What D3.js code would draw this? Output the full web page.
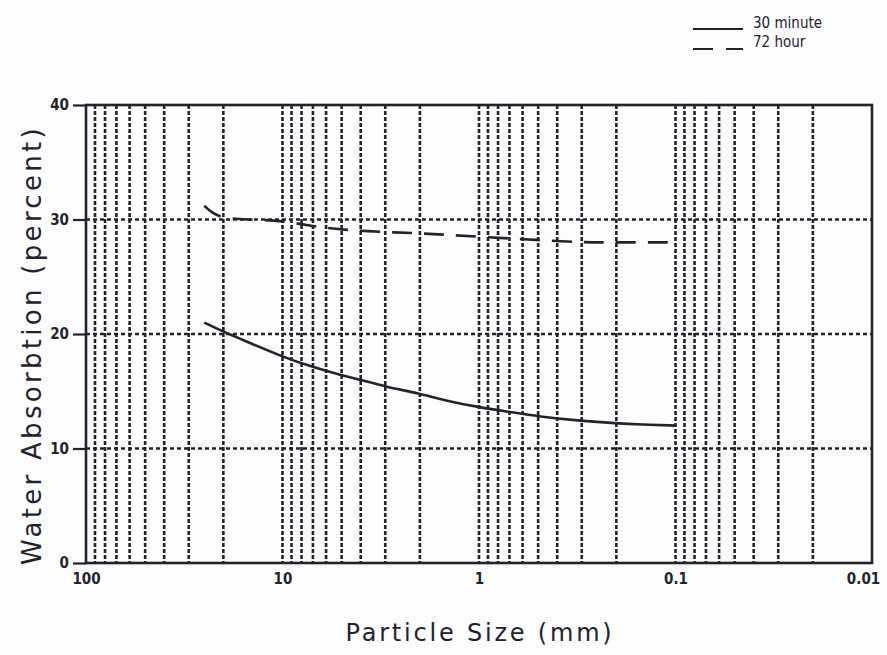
<!DOCTYPE html>
<html>
<head>
<meta charset="utf-8">
<script src="https://cdn.jsdelivr.net/npm/d3@7"></script>
<style>
	body { margin: 0; background: #fdfdfd; }
	svg { display: block; }
</style>
</head>
<body>
<div id="chart"></div>
<script>
// particle size (mm) and water absorption (percent)
const sizes30 = [25, 20, 15, 10, 7, 5, 4, 3, 2, 1.5, 1, 0.7, 0.5, 0.3, 0.2, 0.15, 0.1];
const absorb30 = [21.0, 20.2, 19.3, 18.0, 17.1, 16.4, 16.0, 15.4, 14.8, 14.2, 13.6, 13.2, 12.8, 12.4, 12.2, 12.1, 12.0];

const sizes72 = [25, 23, 20, 15, 10, 7, 5, 3, 2, 1, 0.5, 0.3, 0.2, 0.1];
const absorb72 = [31.2, 30.6, 30.1, 30.0, 29.9, 29.4, 29.1, 28.9, 28.8, 28.5, 28.2, 28.0, 28.0, 28.0];

const xTicks = [100, 10, 1, 0.1, 0.01];
const xTickLabels = ["100", "10", "1", "0.1", "0.01"];
const yTicks = [0, 10, 20, 30, 40];

const seriesNames = ["30 minute", "72 hour"];

const ink = "#23232e";
const width = 887;
const height = 655;

const svg = d3
	.select("#chart")
	.append("svg")
	.attr("width", width)
	.attr("height", height)
	.style("font-family", "DejaVu Sans");

// scales
const x = d3.scaleLog().domain([100, 0.01]).range([86, 872]);
const y = d3.scaleLinear().domain([0, 40]).range([563, 105]);

// vertical grid lines (1..9 in each decade)
const minor = [];
[100, 10, 1, 0.1].forEach(dec => {
	for (let k = 1; k < 10; k++) minor.push((dec / 10) * k);
});
const inner = minor.filter(v => v < 100 && v > 0.01);

svg
	.append("g")
	.selectAll("line")
	.data(inner)
	.enter()
	.append("line")
	.attr("x1", d => x(d))
	.attr("x2", d => x(d))
	.attr("y1", y(40))
	.attr("y2", y(0))
	.attr("stroke", ink)
	.attr("stroke-width", 2.6)
	.attr("stroke-dasharray", "4,2");

// horizontal grid lines
svg
	.append("g")
	.selectAll("line")
	.data([10, 20, 30])
	.enter()
	.append("line")
	.attr("x1", x(100))
	.attr("x2", x(0.01))
	.attr("y1", d => y(d))
	.attr("y2", d => y(d))
	.attr("stroke", ink)
	.attr("stroke-width", 2.6)
	.attr("stroke-dasharray", "4,3");

// frame
svg
	.append("rect")
	.attr("x", x(100))
	.attr("y", y(40))
	.attr("width", x(0.01) - x(100))
	.attr("height", y(0) - y(40))
	.attr("fill", "none")
	.attr("stroke", ink)
	.attr("stroke-width", 2.6);

// y axis
const yAxis = svg
	.append("g")
	.attr("transform", `translate(${x(100)},0)`)
	.call(d3.axisLeft(y).tickValues(yTicks).tickSize(13).tickPadding(4));
yAxis.select(".domain").remove();
yAxis.selectAll("line").attr("stroke", ink).attr("stroke-width", 2.2);
yAxis
	.selectAll("text")
	.attr("fill", ink)
	.style("font-family", "DejaVu Sans Condensed")
	.style("font-size", "15px")
	.style("font-weight", 700);

// x axis
const xAxis = svg
	.append("g")
	.attr("transform", `translate(0,${y(0)})`)
	.call(
		d3
			.axisBottom(x)
			.tickValues(xTicks)
			.tickSize(0)
			.tickPadding(10)
			.tickFormat((d, i) => xTickLabels[i])
	);
xAxis.select(".domain").remove();
xAxis
	.selectAll("text")
	.attr("fill", ink)
	.attr("dx", (d, i) => (i === xTicks.length - 1 ? -9 : 0))
	.style("font-family", "DejaVu Sans Condensed")
	.style("font-size", "15px")
	.style("font-weight", 700);

// data lines
const line = d3
	.line()
	.x(d => x(d[0]))
	.y(d => y(d[1]))
	.curve(d3.curveBasis);

svg
	.append("path")
	.datum(sizes30.map((s, i) => [s, absorb30[i]]))
	.attr("d", line)
	.attr("fill", "none")
	.attr("stroke", ink)
	.attr("stroke-width", 2.6);

svg
	.append("path")
	.datum(sizes72.map((s, i) => [s, absorb72[i]]))
	.attr("d", line)
	.attr("fill", "none")
	.attr("stroke", ink)
	.attr("stroke-width", 2.6)
	.attr("stroke-dasharray", "20,12");

// axis titles
svg
	.append("text")
	.attr("x", 480)
	.attr("y", 641)
	.attr("text-anchor", "middle")
	.attr("fill", ink)
	.style("font-size", "24px")
	.style("letter-spacing", "2.8px")
	.text("Particle Size (mm)");

svg
	.append("text")
	.attr("transform", "rotate(-90)")
	.attr("x", -345)
	.attr("y", 41)
	.attr("text-anchor", "middle")
	.attr("fill", ink)
	.style("font-size", "26px")
	.style("letter-spacing", "3.3px")
	.text("Water Absorbtion (percent)");

// legend
const legend = svg.append("g");
legend
	.append("line")
	.attr("x1", 693)
	.attr("x2", 743)
	.attr("y1", 29)
	.attr("y2", 29)
	.attr("stroke", ink)
	.attr("stroke-width", 2);
legend
	.append("line")
	.attr("x1", 693)
	.attr("x2", 743)
	.attr("y1", 49)
	.attr("y2", 49)
	.attr("stroke", ink)
	.attr("stroke-width", 2)
	.attr("stroke-dasharray", "20,13");
legend
	.selectAll("text")
	.data(seriesNames)
	.enter()
	.append("text")
	.attr("x", 753)
	.attr("y", (d, i) => 28 + i * 19)
	.attr("fill", ink)
	.style("font-family", "DejaVu Sans Condensed")
	.style("font-size", "15px")
	.text(d => d);
</script>
</body>
</html>
